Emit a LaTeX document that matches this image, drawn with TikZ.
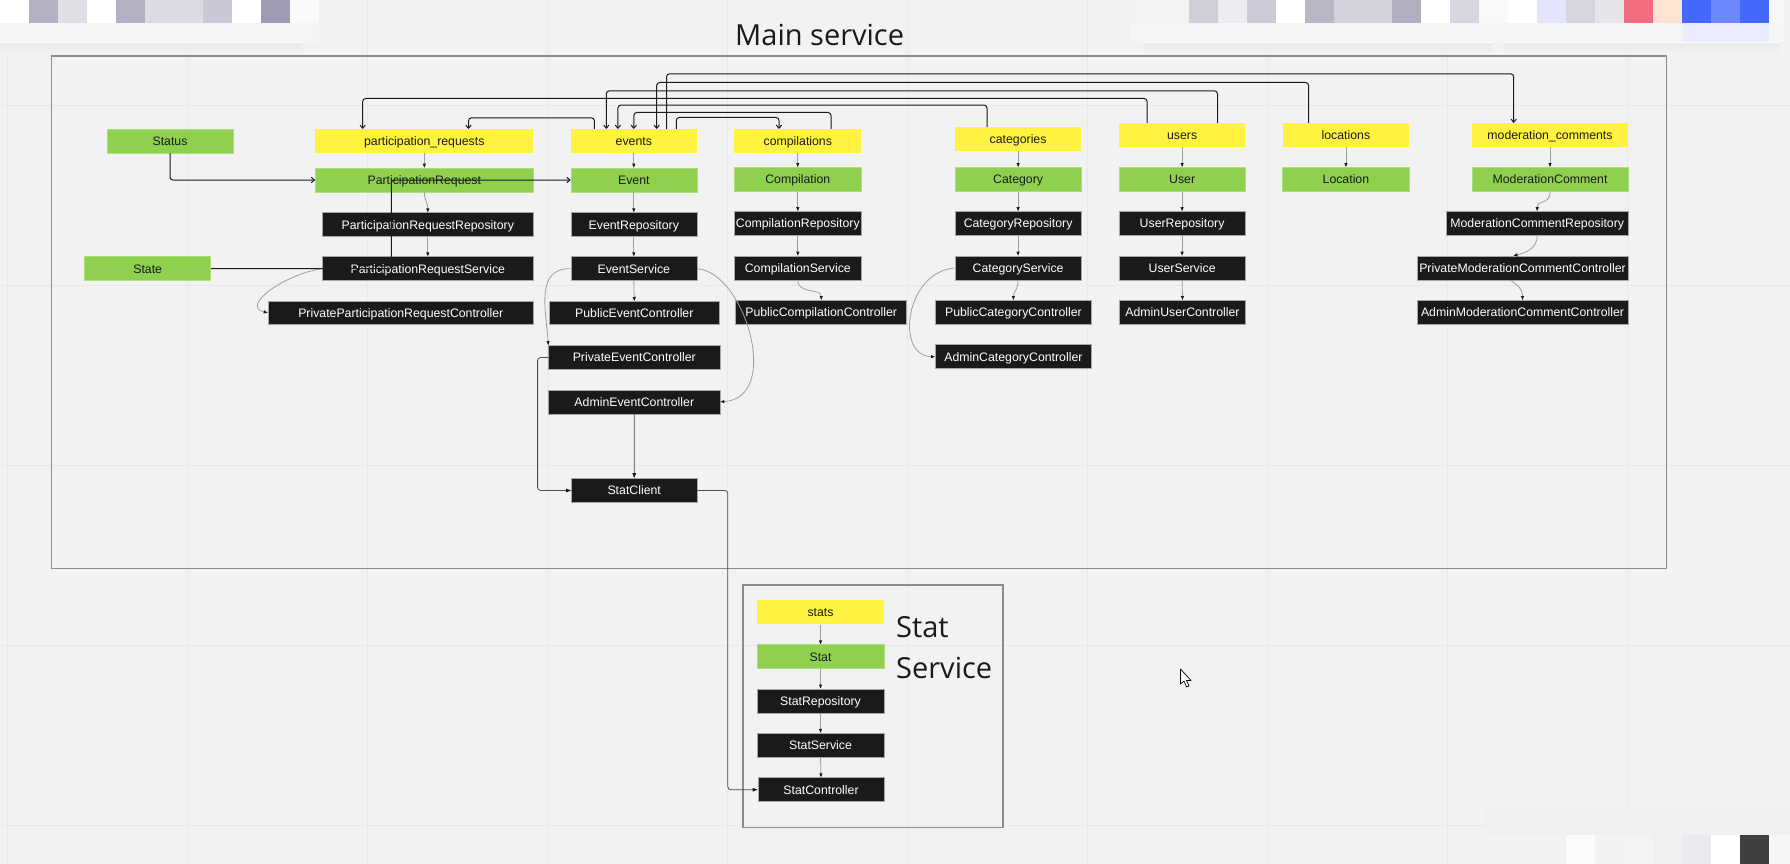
\documentclass[tikz,border=0pt]{standalone}
\usepackage{fontspec}
\setmainfont{Liberation Sans}
\newfontfamily\titlefont{Open Sans}
\usetikzlibrary{arrows.meta,calc}
\definecolor{BackClr}{rgb}{0.948,0.948,0.948}
\definecolor{GridClr}{rgb}{0.915,0.915,0.915}
\definecolor{BlurClr}{rgb}{0.941,0.941,0.941}
\definecolor{FrameClr}{rgb}{0.55,0.55,0.55}
\definecolor{TableClr}{rgb}{1,0.953,0.25}
\definecolor{EntityClr}{rgb}{0.56,0.82,0.31}
\definecolor{CodeClr}{rgb}{0.102,0.102,0.102}
\definecolor{ThinClr}{rgb}{0.62,0.62,0.62}

\begin{document}
\begin{tikzpicture}[x=1pt,y=-1pt]
\tikzset{
  box/.style={minimum height=24pt,inner sep=0pt,text height=11pt,text depth=2.2pt,font=\fontsize{12.3}{14}\selectfont},
  tablebox/.style={box,fill=TableClr,text=CodeClr},
  entitybox/.style={box,fill=EntityClr,draw=EntityClr!75!white,line width=0.6pt,text=CodeClr},
  codebox/.style={box,fill=CodeClr,draw=black!35,line width=0.6pt,text=white},
  thickline/.style={line width=1pt,color=CodeClr,rounded corners=3pt,-{To[length=4pt,width=6pt]}},
  thinline/.style={line width=0.8pt,color=ThinClr,-{Triangle[length=4pt,width=3pt,color=CodeClr]}},
  midline/.style={line width=0.8pt,color=black!70,rounded corners=3pt,-{Triangle[length=5pt,width=3.5pt,color=CodeClr]}},
  titletext/.style={font=\titlefont\fontsize{29}{36}\selectfont,text=CodeClr,anchor=base west,inner sep=0pt}
}
\useasboundingbox (0,0) rectangle (1790,864);
\fill[BackClr] (0,0) rectangle (1790,864);

% grid of the board
\foreach \gx in {7.6,187.6,367.6,547.6,727.6,907.6,1087.6,1267.6,1447.6,1627.6}
  \draw[GridClr,line width=1.2pt] (\gx,0) -- (\gx,864);
\foreach \gy in {105.5,285.5,465.5,645.5,825.5}
  \draw[GridClr,line width=1.2pt] (0,\gy) -- (1790,\gy);

% frames
\draw[FrameClr,line width=1.5pt] (51.7,56) rectangle (1666.5,568.3);
\draw[FrameClr,line width=1.5pt] (742.9,585) rectangle (1002.9,827.7);
\node[titletext] (maintitle) at (735,46) {Main service};
\node[titletext] (stattitle) at (896,637) {Stat};
\node[titletext] (stattitleb) at (896,678) {Service};

% participation requests
\node[entitybox,minimum width=126pt] (status) at (170,141) {Status};
\node[entitybox,minimum width=126pt] (state) at (147.7,268.7) {State};
\node[tablebox,minimum width=218pt] (partreqs) at (424.3,141) {participation\_requests};
\node[entitybox,minimum width=218pt] (partreq) at (424.3,180) {ParticipationRequest};
\node[codebox,minimum width=210.7pt] (partreqrepo) at (427.8,224.7) {ParticipationRequestRepository};
\node[codebox,minimum width=210.7pt] (partreqserv) at (427.8,268.7) {ParticipationRequestService};
\node[codebox,minimum width=265.7pt,minimum height=23pt] (partreqctrl) at (400.8,312.8) {PrivateParticipationRequestController};

% events
\node[tablebox,minimum width=126pt] (events) at (633.8,141) {events};
\node[entitybox,minimum width=126pt] (event) at (633.8,180) {Event};
\node[codebox,minimum width=126pt] (eventrepo) at (633.8,224.7) {EventRepository};
\node[codebox,minimum width=126pt] (eventserv) at (633.8,268.7) {EventService};
\node[codebox,minimum width=170pt,minimum height=23pt] (eventpub) at (634.3,312.8) {PublicEventController};
\node[codebox,minimum width=171.4pt] (eventpriv) at (634.3,357.5) {PrivateEventController};
\node[codebox,minimum width=171.4pt] (eventadm) at (634.3,401.8) {AdminEventController};
\node[codebox,minimum width=125.6pt] (statclient) at (634.2,490.5) {StatClient};

% compilations
\node[tablebox,minimum width=127pt] (comps) at (797.8,141) {compilations};
\node[entitybox,minimum width=127pt] (comp) at (797.8,179.3) {Compilation};
\node[codebox,minimum width=127pt] (comprepo) at (797.8,223.5) {CompilationRepository};
\node[codebox,minimum width=127pt] (compserv) at (797.8,268) {CompilationService};
\node[codebox,minimum width=171pt] (comppub) at (821.2,312.3) {PublicCompilationController};

% categories
\node[tablebox,minimum width=126.4pt] (cats) at (1018.1,139) {categories};
\node[entitybox,minimum width=126.4pt] (cat) at (1018.1,179.3) {Category};
\node[codebox,minimum width=126.4pt] (catrepo) at (1018.1,223.5) {CategoryRepository};
\node[codebox,minimum width=126.4pt] (catserv) at (1018.1,268) {CategoryService};
\node[codebox,minimum width=156.2pt] (catpub) at (1013.4,312.3) {PublicCategoryController};
\node[codebox,minimum width=156.2pt] (catadm) at (1013.4,356.7) {AdminCategoryController};

% users
\node[tablebox,minimum width=126.6pt] (users) at (1182.1,135) {users};
\node[entitybox,minimum width=126.6pt] (user) at (1182.1,179.3) {User};
\node[codebox,minimum width=126.6pt] (userrepo) at (1182.1,223.5) {UserRepository};
\node[codebox,minimum width=126.6pt] (userserv) at (1182.1,268) {UserService};
\node[codebox,minimum width=125.9pt] (useradm) at (1182.5,312.3) {AdminUserController};

% locations
\node[tablebox,minimum width=126.7pt] (locs) at (1345.9,135) {locations};
\node[entitybox,minimum width=126.7pt] (loc) at (1345.9,179.3) {Location};

% moderation comments
\node[tablebox,minimum width=156pt] (modcoms) at (1550,135) {moderation\_comments};
\node[entitybox,minimum width=156pt] (modcom) at (1550,179.3) {ModerationComment};
\node[codebox,minimum width=181.7pt] (modrepo) at (1537.2,223.5) {ModerationCommentRepository};
\node[codebox,minimum width=211pt] (modpriv) at (1522.5,268) {PrivateModerationCommentController};
\node[codebox,minimum width=211pt] (modadm) at (1522.5,312.3) {AdminModerationCommentController};

% stats
\node[tablebox,minimum width=127pt] (stats) at (820.5,612.3) {stats};
\node[entitybox,minimum width=127pt] (stat) at (820.5,656.7) {Stat};
\node[codebox,minimum width=127pt] (statrepo) at (820.5,700.8) {StatRepository};
\node[codebox,minimum width=127pt] (statserv) at (820.5,745.2) {StatService};
\node[codebox,minimum width=126pt] (statctrl) at (821,789.7) {StatController};

% straight links
\draw[thinline] (partreqs) -- (partreq);
\draw[thinline] (partreq.south) .. controls +(0,8) and ([yshift=10pt]partreqrepo.north) .. (partreqrepo.north);
\draw[thinline] (partreqrepo) -- (partreqserv);
\draw[thinline] (events) -- (event);
\draw[thinline] (event) -- (eventrepo);
\draw[thinline] (eventrepo) -- (eventserv);
\draw[thinline] (eventserv.south) -- (eventpub.north);
\draw[thinline] (comps) -- (comp);
\draw[thinline] (comp) -- (comprepo);
\draw[thinline] (comprepo) -- (compserv);
\draw[thinline] (cats) -- (cat);
\draw[thinline] (cat) -- (catrepo);
\draw[thinline] (catrepo) -- (catserv);
\draw[thinline] (users) -- (user);
\draw[thinline] (user) -- (userrepo);
\draw[thinline] (userrepo) -- (userserv);
\draw[thinline] (userserv.south) -- (useradm.north);
\draw[thinline] (locs) -- (loc);
\draw[thinline] (modcoms) -- (modcom);
\draw[thinline] (stats) -- (stat);
\draw[thinline] (stat) -- (statrepo);
\draw[thinline] (statrepo) -- (statserv);
\draw[thinline] (statserv.south) -- (statctrl.north);

% curved links
\draw[thinline] (partreqserv.west) .. controls (285,274) and (240,306) .. (partreqctrl.west);
\draw[thinline] (eventserv.west) .. controls (535,268) and (546,310) .. (eventpriv.north west);
\draw[thinline] (eventserv.east) .. controls (745,272) and (782,398) .. (eventadm.east);
\draw[thinline] (compserv.south) .. controls +(0,14) and ([yshift=12pt]comppub.north) .. (comppub.north);
\draw[thinline] (catserv.west) .. controls (905,272) and (895,356) .. (catadm.west);
\draw[thinline] (catserv.south) .. controls +(0,10) and ([yshift=8pt]catpub.north) .. (catpub.north);
\draw[thinline] (modcom.south) .. controls +(0,14) and ([yshift=12pt]modrepo.north) .. (modrepo.north);
\draw[thinline] (modrepo.south) .. controls +(0,12) and ([xshift=4pt,yshift=3pt]modpriv.north) .. ([xshift=-9pt]modpriv.north);
\draw[thinline] ([xshift=-12pt]modpriv.south) .. controls +(6,4) and ([yshift=12pt]modadm.north) .. (modadm.north);

% links to the stat client
\draw[midline] (eventpriv.west) -- ++(-10.7,0) |- (statclient.west);
\draw[midline] (eventadm) -- (statclient);
\draw[midline] (statclient.east) -- ++(30.5,0) |- (statctrl.west);

% links between tables
\draw[thickline] ([xshift=-35pt]users.north) -- ++(0,-24.3) -| ([xshift=-61.6pt]partreqs.north);
\draw[thickline] ([xshift=35.4pt]users.north) -- ++(0,-32) -| ([xshift=-27.5pt]events.north);
\draw[thickline] ([xshift=-37.3pt]locs.north) -- ++(0,-40.3) -| ([xshift=22.9pt]events.north);
\draw[thickline] ([xshift=-31.1pt]cats.north) -- ++(0,-21.7) -| ([xshift=-15.9pt]events.north);
\draw[thickline] ([xshift=33.2pt]comps.north) -- ++(0,-16.3) -| (events.north);
\draw[thickline] ([xshift=32.7pt]events.north) -- ++(0,-55) -| ([xshift=-36.3pt]modcoms.north);
\draw[thickline] ([xshift=42.5pt]events.north) -- ++(0,-11.3) -| ([xshift=-18.8pt]comps.north);
\draw[thickline] ([xshift=-39.4pt]events.north) -- ++(0,-11) -| ([xshift=44.2pt]partreqs.north);
\draw[thickline] (status.south) |- (partreq.west);
\draw[thickline] (state.east) -- ++(180.3,0) |- (event.west);

% pixelated toolbars
\fill[white!50!BackClr] (0,0) rectangle (319,23);
\fill[black!4] (0,23) rectangle (319,42);
\fill[white] (0,42) rectangle (302,44);
\shade[top color=black!8,bottom color=BackClr] (0,44) rectangle (302,54);
\foreach \px/\pw/\pc in {0/29/FFFFFF,29/29/B4B1C5,58/29/DFDFE6,87/29/FFFFFF,116/29/B4B1C5,145/58/DCDBE4,203/29/C9C8D6,232/29/FFFFFF,261/29/9E9CB3,290/29/FAFAFA}{
  \definecolor{PixClr}{HTML}{\pc}
  \fill[PixClr] (\px,0) rectangle ++(\pw,23);
}
\fill[black!4] (1130,0) rectangle (1784,42);
\fill[white] (1144.5,42) rectangle (1491.7,44);
\fill[white] (1504,42) rectangle (1779,44);
\shade[top color=black!8,bottom color=BackClr] (1144.5,44) rectangle (1491.7,54);
\shade[top color=black!8,bottom color=BackClr] (1504,44) rectangle (1779,54);
\fill[blue!8!white] (1682,23) rectangle (1769,42);
\foreach \px/\pw/\pc in {1130/29/F3F3F3,1160/29/F3F3F4,1189/29/CFCFDA,1218/29/EBEBF0,1247/29/CAC9D6,1276/29/FFFFFF,1305/29/B8B7C6,1334/58/D2D2DC,1392/29/B0AFC0,1421/29/FFFFFF,1450/29/D6D6DF,1479/29/F9F9F9,1508/29/FFFFFF,1537/29/E3E6FE,1566/29/D6D5E0,1595/29/E5E5EA,1624/29/F16C7F,1653/29/FCE3D4,1682/29/4569FF,1711/29/6E89FF,1740/29/4569FF,1769/15/F8F8F8}{
  \definecolor{PixClr}{HTML}{\pc}
  \fill[PixClr] (\px,0) rectangle ++(\pw,23);
}
\fill[BlurClr] (1485,807) rectangle (1790,835);
\foreach \px/\pw/\pc in {1566/29/FBFBFB,1595/29/F2F2F4,1624/29/F3F3F6,1653/29/EFEFF2,1682/29/E9E9EE,1711/29/FFFFFF,1740/29/3F3F3F,1769/21/F6F6F6}{
  \definecolor{PixClr}{HTML}{\pc}
  \fill[PixClr] (\px,835) rectangle ++(\pw,29);
}

% mouse pointer
\draw[fill=white,draw=black,line width=0.7pt,line join=round] (1180.5,669) -- (1180.5,684) -- (1184,681) -- (1186.5,687) -- (1189,686) -- (1186.5,680.5) -- (1191,680.5) -- cycle;

\end{tikzpicture}
\end{document}
